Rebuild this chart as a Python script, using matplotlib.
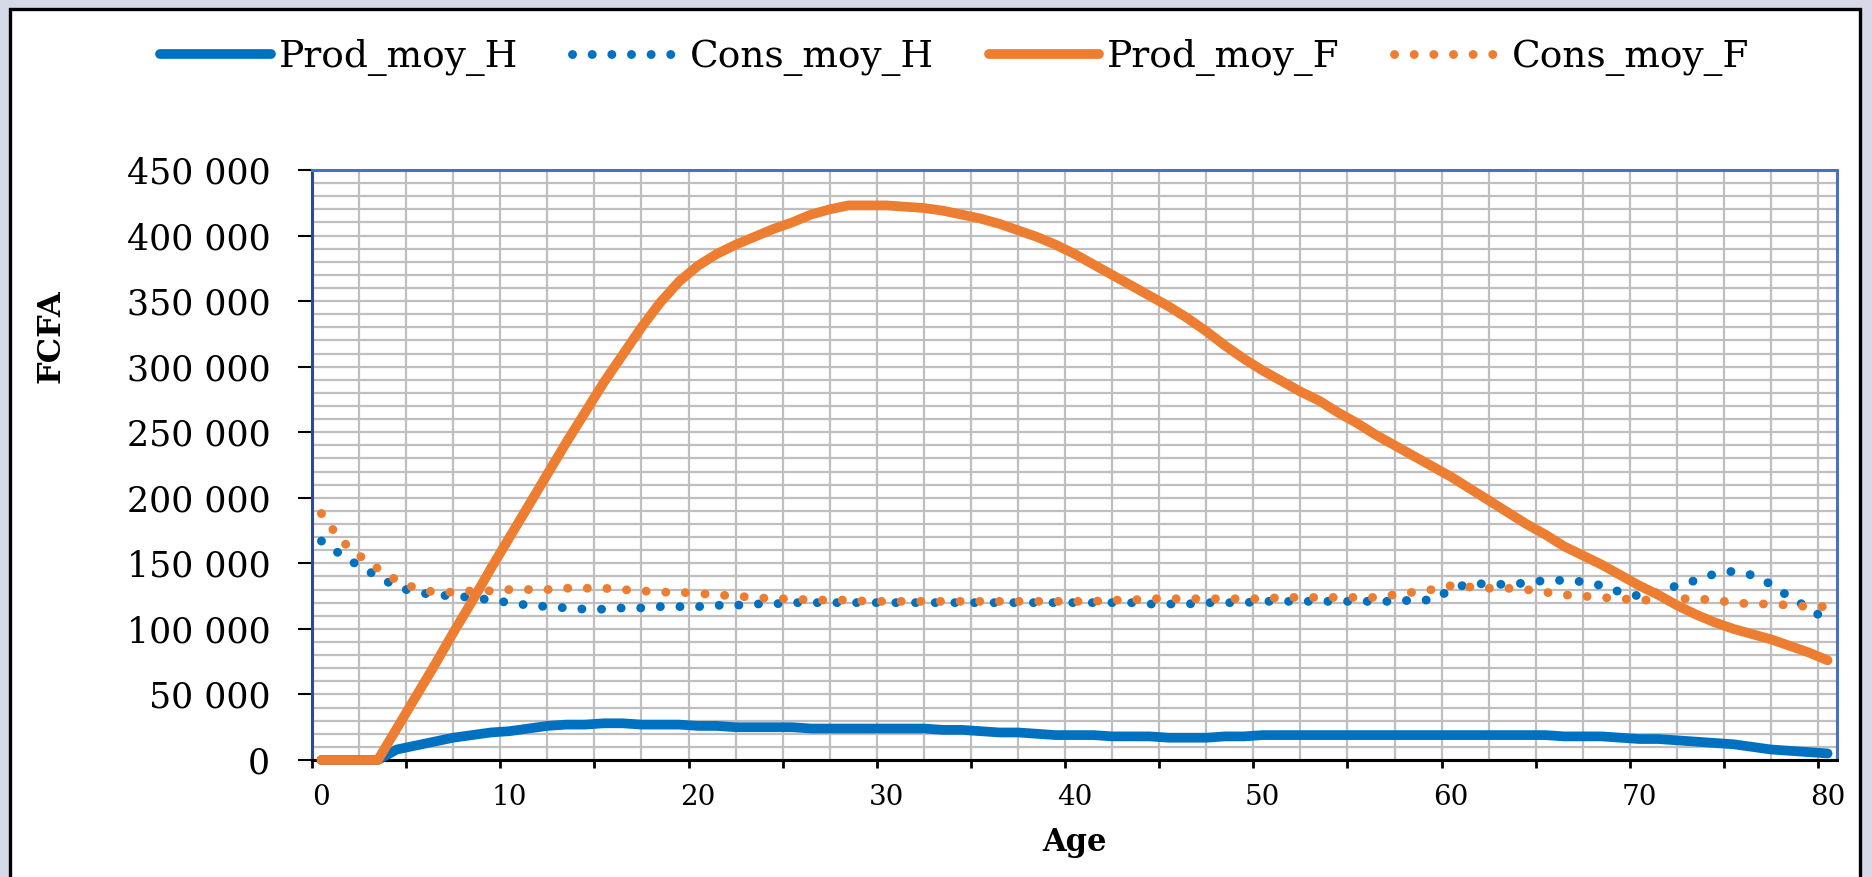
import matplotlib

matplotlib.use("Agg")

import matplotlib.pyplot as plt
import numpy as np
from matplotlib.patches import Rectangle
from matplotlib.ticker import FixedLocator, MultipleLocator, NullFormatter
from matplotlib.transforms import blended_transform_factory

# data (FCFA, one value per age 0..80)
ages = np.arange(0, 81)

prod_moy_h = [
    0, 0, 0, 0, 8, 11, 14, 17, 19, 21,
    22, 24, 26, 27, 27, 28, 28, 27, 27, 27,
    26, 26, 25, 25, 25, 25, 24, 24, 24, 24,
    24, 24, 24, 23, 23, 22, 21, 21, 20, 19,
    19, 19, 18, 18, 18, 17, 17, 17, 18, 18,
    19, 19, 19, 19, 19, 19, 19, 19, 19, 19,
    19, 19, 19, 19, 19, 19, 18, 18, 18, 17,
    16, 16, 15, 14, 13, 12, 10, 8, 7, 6,
    5,
]
cons_moy_h = [
    167, 157, 148, 140, 132, 128, 126, 125, 124, 122,
    120, 118, 117, 116, 115, 115, 116, 116, 117, 117,
    117, 118, 118, 119, 119, 120, 120, 120, 120, 120,
    120, 120, 120, 120, 120, 120, 120, 120, 120, 120,
    120, 120, 120, 120, 119, 119, 119, 120, 120, 120,
    121, 121, 121, 121, 121, 121, 121, 121, 122, 122,
    130, 135, 134, 134, 135, 137, 137, 136, 133, 128,
    125, 128, 133, 137, 142, 144, 141, 134, 124, 116,
    106,
]
prod_moy_f = [
    0, 0, 0, 0, 24, 48, 72, 97, 121, 146,
    170, 194, 218, 242, 265, 288, 309, 330, 349, 365,
    377, 386, 393, 399, 405, 410, 416, 420, 423, 423,
    423, 422, 421, 419, 416, 413, 409, 404, 399, 393,
    386, 378, 370, 362, 354, 346, 337, 327, 316, 306,
    297, 289, 281, 274, 265, 257, 248, 240, 232, 224,
    216, 207, 198, 189, 180, 172, 163, 156, 149, 141,
    133, 126, 118, 111, 105, 100, 96, 92, 87, 82,
    76,
]
cons_moy_f = [
    188, 168, 156, 146, 137, 131, 128, 128, 129, 129,
    130, 130, 130, 131, 131, 131, 130, 129, 128, 128,
    127, 126, 125, 124, 123, 123, 122, 122, 122, 121,
    121, 121, 121, 121, 121, 121, 121, 121, 121, 121,
    121, 121, 122, 122, 123, 123, 123, 123, 123, 123,
    123, 124, 124, 124, 124, 124, 124, 126, 128, 130,
    133, 132, 131, 131, 130, 128, 126, 125, 124, 123,
    122, 122, 123, 123, 122, 120, 119, 119, 118, 117,
    117,
]

series_names = ["Prod_moy_H", "Cons_moy_H", "Prod_moy_F", "Cons_moy_F"]
y_ticks = np.arange(0, 450001, 50000)
x_label_values = np.arange(0, 81, 10)

BLUE = "#0070c0"
ORANGE = "#ed7d31"
SERIF = "DejaVu Serif"

plt.rcParams["font.family"] = SERIF

fig = plt.figure(figsize=(18.72, 8.77), dpi=100)
fig.patch.set_facecolor("#d6d9e8")
fig.patches.append(
    Rectangle((10 / 1872, -0.05), 1850 / 1872, 1.05 - 9 / 877,
              transform=fig.transFigure, facecolor="white",
              edgecolor="black", linewidth=2.4, zorder=-10)
)

ax = fig.add_axes([312 / 1872, 1 - 760 / 877, 1525 / 1872, 590 / 877])
ax.set_facecolor("white")

# category axis: each age sits in the middle of its slot
x = ages + 0.5
thousand = 1000
solid = dict(linewidth=7.0, solid_capstyle="round", solid_joinstyle="round", clip_on=False)
dotted = dict(linewidth=6.4, linestyle=(0, (0.01, 2.2)), dash_capstyle="round", clip_on=False)

ax.plot(x, np.array(prod_moy_h) * thousand, color=BLUE, label=series_names[0], zorder=3, **solid)
ax.plot(x, np.array(cons_moy_h) * thousand, color=BLUE, label=series_names[1], zorder=3, **dotted)
ax.plot(x, np.array(prod_moy_f) * thousand, color=ORANGE, label=series_names[2], zorder=4, **solid)
ax.plot(x, np.array(cons_moy_f) * thousand, color=ORANGE, label=series_names[3], zorder=4, **dotted)

ax.set_xlim(0, 81)
ax.set_ylim(0, 450000)

ax.xaxis.set_major_locator(MultipleLocator(5))
ax.xaxis.set_minor_locator(MultipleLocator(2.5))
ax.xaxis.set_major_formatter(NullFormatter())
ax.yaxis.set_major_locator(FixedLocator(y_ticks))
ax.yaxis.set_minor_locator(MultipleLocator(10000))
ax.set_yticklabels([f"{v:,.0f}".replace(",", " ") for v in y_ticks])

ax.tick_params(axis="x", which="major", direction="out", length=6, width=2, color="black")
ax.tick_params(axis="y", which="major", direction="out", length=10, width=1.5,
               color="black", pad=20, labelsize=25)
ax.tick_params(which="minor", length=0)

ax.grid(True, which="both", color="#bfbfbf", linewidth=1.6)
ax.set_axisbelow(True)

trans = blended_transform_factory(ax.transData, ax.transAxes)
for v in x_label_values:
    ax.text(v + 0.5, -0.064, str(v), transform=trans, ha="center", va="center", fontsize=20)

ax.spines["bottom"].set_color("black")
ax.spines["bottom"].set_linewidth(2.2)
ax.spines["left"].set_color("#2e4b8f")
ax.spines["left"].set_linewidth(2.2)
for side in ("top", "right"):
    ax.spines[side].set_color("#4472c4")
    ax.spines[side].set_linewidth(2.2)

fig.text(51 / 1872, 1 - 336 / 877, "FCFA", rotation=90, ha="center", va="center",
         fontsize=23, fontweight="bold")
fig.text(1075 / 1872, 1 - 842 / 877, "Age", ha="center", va="center",
         fontsize=22, fontweight="bold")

fig.legend(loc="center", bbox_to_anchor=(955 / 1872, 1 - 58 / 877), ncol=4,
           frameon=False, fontsize=27, handlelength=2.95, handletextpad=0.2,
           columnspacing=1.45)

fig.savefig("out.png", dpi=100, facecolor=fig.get_facecolor())
